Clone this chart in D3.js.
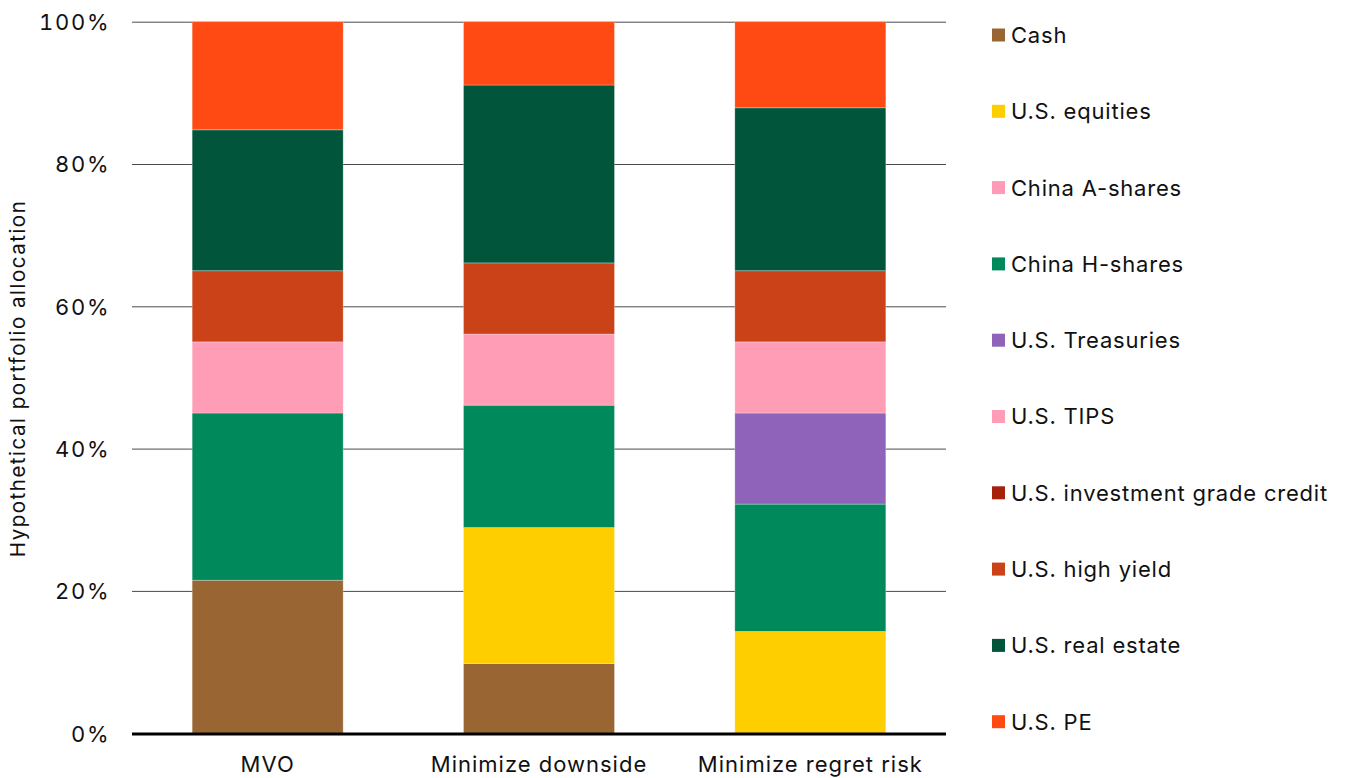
<!DOCTYPE html>
<html>
<head>
<meta charset="utf-8">
<script src="https://cdn.jsdelivr.net/npm/d3@7"></script>
<style>
  html, body { margin: 0; padding: 0; background: #fff; }
  svg { display: block; font-family: Inter, "Noto Sans", sans-serif; }
</style>
</head>
<body>
<svg id="chart" width="1345" height="778"></svg>
<script>
// Portfolio approaches (x categories)
const strategies = ["MVO", "Minimize downside", "Minimize regret risk"];

// Asset classes, in stacking / legend order
const assets = [
  "Cash", "U.S. equities", "China A-shares", "China H-shares", "U.S. Treasuries",
  "U.S. TIPS", "U.S. investment grade credit", "U.S. high yield", "U.S. real estate", "U.S. PE"
];

const assetColors = [
  "#996633", "#FFCE00", "#FF9BB5", "#008A5C", "#8F63BA",
  "#FF9CB6", "#A6200A", "#CC4218", "#00553A", "#FF4A14"
];

// Allocation (%) per asset class, one value per strategy
const cash       = [21.5,  9.8,  0.0];
const usEquities = [ 0.0, 19.1, 14.3];
const chinaA     = [ 0.0,  0.0,  0.0];
const chinaH     = [23.5, 17.2, 17.9];
const treasuries = [ 0.0,  0.0, 12.8];
const tips       = [10.0, 10.0, 10.0];
const igCredit   = [ 0.0,  0.0,  0.0];
const highYield  = [10.0, 10.0, 10.0];
const realEstate = [19.8, 25.0, 22.9];
const privateEq  = [15.2,  8.9, 12.1];

const yTicks = [0, 20, 40, 60, 80, 100];

const seriesValues = [cash, usEquities, chinaA, chinaH, treasuries, tips, igCredit, highYield, realEstate, privateEq];

// Build rows for d3.stack
const rows = strategies.map((s, i) => {
  const r = { strategy: s };
  assets.forEach((a, j) => { r[a] = seriesValues[j][i]; });
  return r;
});

const svg = d3.select("#chart");
const x = d3.scaleBand().domain(strategies).range([132, 946]).paddingInner(0.4435).paddingOuter(0.22175);
const y = d3.scaleLinear().domain([0, 100]).range([733.2, 21.7]);

const stacked = d3.stack().keys(assets)(rows);
const color = d3.scaleOrdinal().domain(assets).range(assetColors);

// Gridlines
const grid = svg.append("g")
  .attr("transform", "translate(132,0)")
  .call(d3.axisLeft(y).tickValues(yTicks.filter(t => t > 0)).tickSize(-(946 - 132)).tickFormat(""));
grid.select(".domain").remove();
grid.selectAll(".tick line").attr("stroke", "#4a4a4a").attr("stroke-width", 1);

// Y tick labels
const yAxis = svg.append("g")
  .attr("transform", "translate(110.5,0)")
  .call(d3.axisLeft(y).tickValues(yTicks).tickSize(0).tickPadding(0).tickFormat(d => d + "%"));
yAxis.select(".domain").remove();
yAxis.selectAll("text")
  .attr("font-family", "Inter, 'Noto Sans', sans-serif")
  .attr("font-size", 22)
  .attr("letter-spacing", 1.8)
  .style("font-variant-numeric", "tabular-nums")
  .attr("fill", "#111")
  .attr("dy", "0.36em");

// Stacked bars
svg.append("g").selectAll("g")
  .data(stacked)
  .join("g")
  .attr("fill", d => color(d.key))
  .selectAll("rect")
  .data(d => d.filter(p => p[1] - p[0] > 0))
  .join("rect")
  .attr("x", d => x(d.data.strategy))
  .attr("width", x.bandwidth())
  .attr("y", d => y(d[1]))
  .attr("height", d => y(d[0]) - y(d[1]))
  .attr("stroke", "rgba(255,255,255,0.35)")
  .attr("stroke-width", 0.8);

// Zero baseline
svg.append("line")
  .attr("x1", 132).attr("x2", 946)
  .attr("y1", y(0) + 0.8).attr("y2", y(0) + 0.8)
  .attr("stroke", "#000").attr("stroke-width", 3);

// X category labels
const xAxis = svg.append("g")
  .attr("transform", `translate(0,${y(0)})`)
  .call(d3.axisBottom(x).tickSize(0).tickPadding(0));
xAxis.select(".domain").remove();
xAxis.selectAll("text")
  .attr("font-family", "Inter, 'Noto Sans', sans-serif")
  .attr("font-size", 22)
  .attr("letter-spacing", 1)
  .attr("fill", "#111")
  .attr("dy", "1.75em");

// Y axis title
svg.append("text")
  .attr("transform", `translate(25,${(y(0) + y(100)) / 2 + 1}) rotate(-90)`)
  .attr("text-anchor", "middle")
  .attr("font-size", 20.5)
  .attr("letter-spacing", 1.5)
  .attr("fill", "#111")
  .text("Hypothetical portfolio allocation");

// Legend
const legend = svg.append("g").attr("transform", "translate(992,35)");
const item = legend.selectAll("g")
  .data(assets)
  .join("g")
  .attr("transform", (d, i) => `translate(0,${i * 76.3})`);
item.append("rect")
  .attr("x", 0).attr("y", -6.5)
  .attr("width", 13).attr("height", 13)
  .attr("fill", d => color(d));
item.append("text")
  .attr("x", 19).attr("y", 0)
  .attr("dy", "0.36em")
  .attr("font-size", 22)
  .attr("letter-spacing", 0.8)
  .attr("fill", "#111")
  .text(d => d);
</script>
</body>
</html>
